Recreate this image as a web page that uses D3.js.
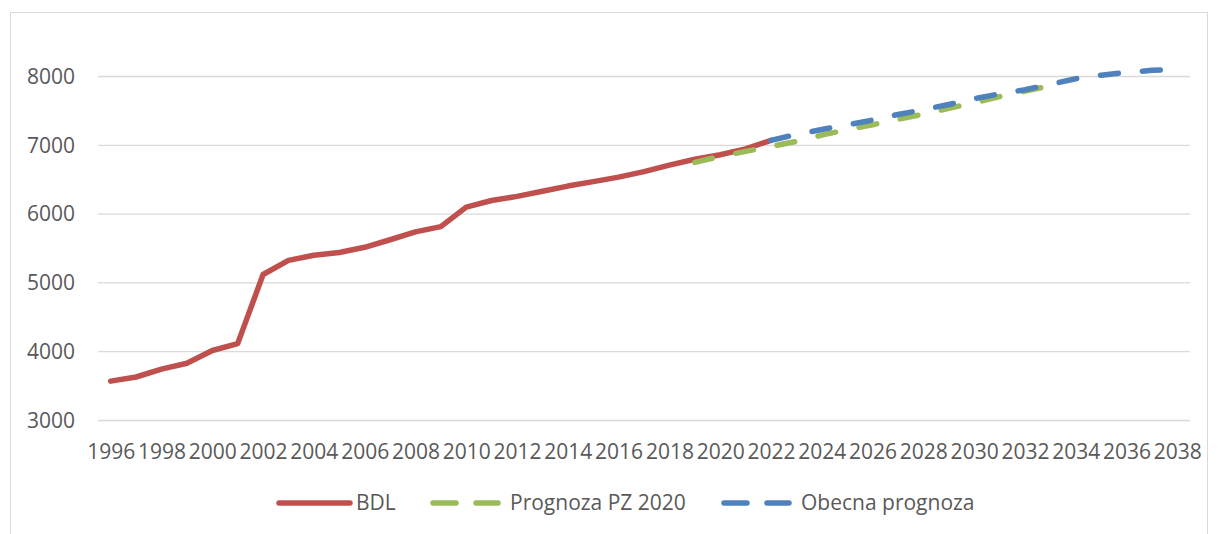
<!DOCTYPE html>
<html>
<head>
<meta charset="utf-8">
<script src="https://cdn.jsdelivr.net/npm/d3@7"></script>
<style>
  body { margin: 0; background: #fff; }
  text { font-family: "Open Sans", sans-serif; fill: #595959; }
</style>
</head>
<body>
<svg id="chart"></svg>
<script>
// years on the category axis
const years = d3.range(1996, 2039);

// BDL (historical)
const bdlYears = d3.range(1996, 2023);
const bdlValues = [3565, 3625, 3740, 3825, 4010, 4110, 5115, 5320, 5395, 5435, 5510,
  5620, 5735, 5810, 6095, 6190, 6250, 6325, 6400, 6465, 6530, 6610, 6705, 6790, 6855, 6940, 7065];

// Prognoza PZ 2020
const pzYears = d3.range(2019, 2034);
const pzValues = [6745, 6830, 6905, 6975, 7050, 7140, 7220, 7292, 7370, 7445, 7530, 7610, 7700, 7780, 7860];

// Obecna prognoza
const obYears = d3.range(2022, 2039);
const obValues = [7065, 7150, 7222, 7290, 7360, 7440, 7510, 7586, 7670, 7740, 7800, 7880,
  7960, 8012, 8052, 8082, 8100];

const yTicks = [3000, 4000, 5000, 6000, 7000, 8000];
const xTickYears = years.filter(y => y % 2 === 0);

const legendItems = [
  { name: "BDL", color: "#C0504D", dash: null },
  { name: "Prognoza PZ 2020", color: "#9BBB59", dash: "18,24" },
  { name: "Obecna prognoza", color: "#4F81BD", dash: "18,24" }
];

const width = 1218, height = 534;
const plotLeft = 98, plotRight = 1190, plotTop = 76, plotBottom = 420;
const fontSize = "21px";

const svg = d3.select("#chart").attr("width", width).attr("height", height);

// chart border
svg.append("rect")
  .attr("x", 10.5).attr("y", 12.5)
  .attr("width", 1197).attr("height", 560)
  .attr("fill", "none").attr("stroke", "#D9D9D9").attr("stroke-width", 1);

const x = d3.scalePoint().domain(years).range([plotLeft, plotRight]).padding(0.5);
const y = d3.scaleLinear().domain([3000, 8000]).range([plotBottom, plotTop]);

// y axis with gridlines
const yAxis = svg.append("g")
  .attr("transform", `translate(${plotLeft},0)`)
  .call(d3.axisLeft(y).tickValues(yTicks).tickSize(-(plotRight - plotLeft)).tickPadding(23).tickFormat(d3.format("d")));
yAxis.select(".domain").remove();
yAxis.selectAll("line").attr("stroke", "#D9D9D9").attr("stroke-width", 1.3);
yAxis.selectAll("text").style("font-size", fontSize).attr("dy", "0.35em");

// x axis labels
const xAxis = svg.append("g")
  .attr("transform", `translate(0,${plotBottom})`)
  .call(d3.axisBottom(x).tickValues(xTickYears).tickSize(0).tickPadding(32));
xAxis.select(".domain").remove();
xAxis.selectAll("text").style("font-size", fontSize).attr("dy", "0.35em");

const line = d3.line().x(d => x(d[0])).y(d => y(d[1]));

function drawSeries(yrs, vals, item) {
  svg.append("path")
    .datum(yrs.map((yr, i) => [yr, vals[i]]))
    .attr("d", line)
    .attr("fill", "none")
    .attr("stroke", item.color)
    .attr("stroke-width", 5.5)
    .attr("stroke-linecap", "round")
    .attr("stroke-linejoin", "round")
    .attr("stroke-dasharray", item.dash);
}

drawSeries(bdlYears, bdlValues, legendItems[0]);
drawSeries(pzYears, pzValues, legendItems[1]);
drawSeries(obYears, obValues, legendItems[2]);

// legend
const legendY = 503;
const legendX = [279, 433, 724];
legendItems.forEach((item, i) => {
  const g = svg.append("g").attr("transform", `translate(${legendX[i]},${legendY})`);
  if (item.dash) {
    g.append("line").attr("x1", 0).attr("x2", 23).attr("y1", 0).attr("y2", 0)
      .attr("stroke", item.color).attr("stroke-width", 5.5).attr("stroke-linecap", "round");
    g.append("line").attr("x1", 43).attr("x2", 65).attr("y1", 0).attr("y2", 0)
      .attr("stroke", item.color).attr("stroke-width", 5.5).attr("stroke-linecap", "round");
  } else {
    g.append("line").attr("x1", 0).attr("x2", 71).attr("y1", 0).attr("y2", 0)
      .attr("stroke", item.color).attr("stroke-width", 5.5).attr("stroke-linecap", "round");
  }
  g.append("text")
    .attr("x", 77)
    .attr("y", 0)
    .attr("dy", "0.35em")
    .style("font-size", fontSize)
    .text(item.name);
});
</script>
</body>
</html>
